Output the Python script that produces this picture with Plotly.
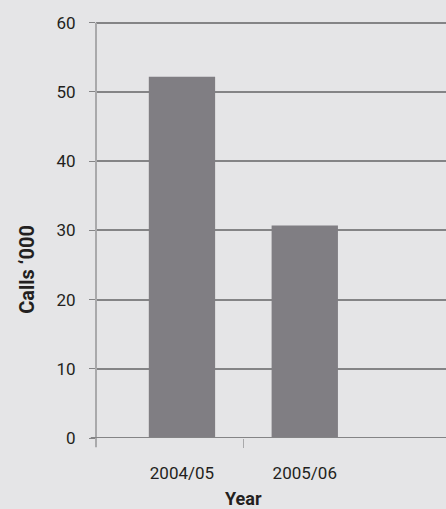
import plotly.graph_objects as go

# Calls handled per year (thousands)
years = ["2004/05", "2005/06"]
calls_thousands = [52.2, 30.7]
y_ticks = [0, 10, 20, 30, 40, 50, 60]

bg = "#e5e5e7"
bar_color = "#807e83"
grid_color = "#848486"
axis_color = "#a9a9ab"
font_family = "Roboto, 'DejaVu Sans', sans-serif"

fig = go.Figure()
fig.add_trace(go.Bar(
    x=[0, 1], y=calls_thousands, width=0.54,
    marker=dict(color=bar_color, line=dict(width=0)),
    hoverinfo="skip", showlegend=False,
))

x_range = [-0.7, 2.15]
y_range = [0, 60.25]

fig.update_layout(
    width=446, height=509,
    margin=dict(l=96, r=0, t=21, b=71),
    paper_bgcolor=bg, plot_bgcolor=bg,
    font=dict(family=font_family, size=17, color="#231f20"),
    xaxis=dict(
        range=x_range, tickvals=[0, 1], ticktext=years,
        showgrid=False, zeroline=False, showline=False,
        ticks="", ticklabelstandoff=23, fixedrange=True,
    ),
    xaxis2=dict(
        range=x_range, overlaying="x", side="bottom",
        tickvals=[0.5], ticktext=[""], ticks="outside", ticklen=9,
        tickwidth=1, tickcolor=axis_color, showgrid=False,
        zeroline=False, showline=False, fixedrange=True,
    ),
    yaxis=dict(
        range=y_range, tickvals=y_ticks,
        showgrid=True, gridcolor=grid_color, gridwidth=2,
        zeroline=False, showline=False,
        ticks="outside", ticklen=6, tickcolor=grid_color, tickwidth=1,
        ticklabelstandoff=10, fixedrange=True,
    ),
    annotations=[
        dict(text="<b>Calls ‘000</b>", xref="paper", x=-0.198,
             yref="paper", y=0.405, textangle=-90, showarrow=False,
             font=dict(size=20), xanchor="center", yanchor="middle"),
        dict(text="<b>Year</b>", xref="x", yref="paper",
             x=0.5, y=-0.145, showarrow=False,
             font=dict(size=18), xanchor="center", yanchor="middle"),
    ],
)

# invisible trace to activate the tick axis between categories
fig.add_trace(go.Scatter(x=[0.5], y=[0], xaxis="x2", mode="markers",
                         marker=dict(opacity=0), hoverinfo="skip",
                         showlegend=False))

# left value axis line and the bottom category axis line
fig.add_shape(type="line", xref="paper", yref="y", x0=0, x1=0,
              y0=0, y1=60, line=dict(color=axis_color, width=2))
fig.add_shape(type="line", xref="paper", yref="paper", x0=0, x1=0,
              y0=0, y1=-0.022, line=dict(color=axis_color, width=2))
fig.add_shape(type="line", xref="paper", yref="y", x0=-0.015, x1=1,
              y0=0, y1=0, line=dict(color=grid_color, width=2))

fig.write_html("out.html")
